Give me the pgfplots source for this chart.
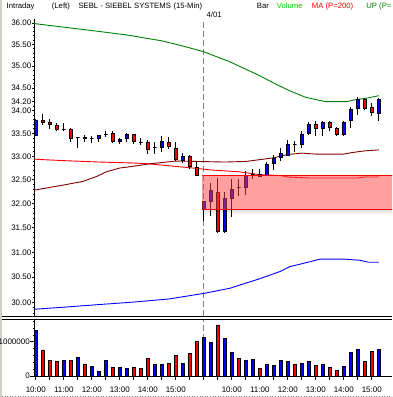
\documentclass[border=0pt]{standalone}
\usepackage{pgfplots}
\pgfplotsset{compat=1.18}
\usepackage{pgfplotstable}
\usepackage{fontspec}
\setmainfont{Liberation Sans}
\definecolor{candleup}{RGB}{0,0,255}
\definecolor{candledn}{RGB}{255,0,0}
\definecolor{upgreen}{RGB}{0,128,0}
\definecolor{volgreen}{RGB}{0,200,0}
\definecolor{maroonline}{RGB}{128,0,0}
\definecolor{bandfill}{RGB}{255,64,64}
\definecolor{framegray}{RGB}{212,208,200}
\definecolor{dashgray}{RGB}{128,128,128}

\pgfplotstableread{
i o h l c
1 33.45 33.82 33.44 33.79
2 33.79 33.92 33.68 33.74
3 33.74 33.82 33.60 33.69
4 33.68 33.72 33.54 33.59
5 33.59 33.73 33.54 33.59
6 33.59 33.61 33.32 33.39
7 33.41 33.41 33.18 33.41
8 33.41 33.47 33.32 33.38
9 33.39 33.43 33.29 33.39
10 33.38 33.47 33.32 33.45
11 33.48 33.56 33.41 33.48
12 33.49 33.56 33.28 33.32
13 33.32 33.39 33.26 33.37
14 33.39 33.50 33.32 33.47
15 33.47 33.49 33.26 33.32
16 33.30 33.39 33.25 33.30
17 33.30 33.36 33.06 33.15
18 33.20 33.31 33.06 33.20
19 33.20 33.43 33.10 33.33
20 33.30 33.41 33.15 33.21
21 33.18 33.32 32.89 32.94
22 32.92 33.08 32.85 33.00
23 33.00 33.03 32.73 32.78
24 32.76 32.90 32.57 32.59
25 31.87 32.05 31.63 32.04
26 32.04 32.43 31.74 32.27
27 32.24 32.54 31.39 31.42
28 31.42 32.25 31.39 32.11
29 32.11 32.51 31.72 32.30
30 32.34 32.51 32.16 32.34
31 32.34 32.69 32.18 32.60
32 32.62 32.73 32.51 32.62
33 32.62 32.73 32.55 32.57
34 32.60 32.88 32.57 32.83
35 32.85 33.03 32.71 32.96
36 32.97 33.18 32.89 33.07
37 33.03 33.36 33.00 33.26
38 33.25 33.33 33.10 33.25
39 33.26 33.54 33.18 33.48
40 33.50 33.74 33.47 33.70
41 33.70 33.77 33.45 33.61
42 33.61 33.77 33.43 33.74
43 33.74 33.76 33.54 33.63
44 33.61 33.63 33.45 33.48
45 33.48 33.77 33.45 33.74
46 33.79 34.09 33.61 34.02
47 34.04 34.31 33.90 34.24
48 34.24 34.28 34.02 34.05
49 34.08 34.16 33.87 33.96
50 33.94 34.28 33.77 34.24
}\candles

\begin{document}
\begin{tikzpicture}[font=\fontsize{8}{9.6}\selectfont]
\path[use as bounding box] (0,0) rectangle (392pt,-397pt);
\fill[framegray] (0,0) rectangle (2pt,-397pt);

% header
\begin{scope}[every node/.style={anchor=base west, inner sep=0pt, font=\fontsize{7.7}{9}\selectfont}]
\node at (6.5pt,-8.3pt) {Intraday};
\node at (51.7pt,-8.3pt) {(Left)};
\node at (78.3pt,-8.3pt) {SEBL - SIEBEL SYSTEMS};
\node at (173.3pt,-8.3pt) {(15-Min)};
\node at (256.7pt,-8.3pt) {Bar};
\node[text=volgreen] at (276.7pt,-8.3pt) {Volume};
\node[text=red] at (311.7pt,-8.3pt) {MA (P=200)};
\node[text=upgreen] at (366.2pt,-8.3pt) {UP (P=};
\node at (206.5pt,-17.3pt) {4/01};
\end{scope}

% ---------------- price panel
\begin{axis}[
  at={(34pt,-316pt)}, anchor=south west,
  scale only axis, width=358pt, height=297pt,
  xmin=0.743, xmax=51.886,
  ymode=log, ymin=29.741, ymax=36.094,
  axis x line=none, axis y line*=left,
  axis line style={-, line width=0.9pt},
  ytick={30,30.5,31,31.5,32,32.5,33,33.5,34,34.2,34.5,35,35.5,36},
  yticklabels={30.00,30.50,31.00,31.50,32.00,32.50,33.00,33.50,34.00,34.20,34.50,35.00,35.50,36.00},
  minor ytick={29.8,29.9,...,36.0},
  tick align=outside, major tick length=2pt, minor tick length=1.2pt,
  tick style={black, line width=0.6pt},
  yticklabel style={inner sep=0pt, xshift=-0.5pt},
]
\addplot[dashgray, line width=0.9pt, dash pattern=on 6pt off 3pt, forget plot] coordinates {(24.95,29.741) (24.95,36.094)};
\addplot[upgreen, line width=0.9pt] coordinates {(0.743,35.99) (1,35.98) (5,35.90) (10,35.80) (14,35.72) (19,35.58) (22,35.46) (25,35.33) (28.7,35.10) (33,34.78) (35.3,34.59) (37.3,34.44) (39.5,34.30) (41.4,34.23) (42.5,34.20) (45.4,34.20) (46.6,34.24) (48.5,34.28) (50,34.33)};
\addplot[red, line width=0.9pt] coordinates {(0.743,32.94) (2,32.93) (5,32.91) (10,32.88) (15,32.86) (17,32.84) (20,32.80) (24,32.74) (26,32.71) (30,32.67) (33,32.61) (36,32.59) (37,32.56) (40,32.54) (47,32.54) (48,32.56) (50,32.56)};
\addplot[maroonline, line width=0.9pt] coordinates {(0.743,32.28) (3,32.34) (5,32.39) (7.8,32.47) (9.7,32.57) (11.1,32.67) (13,32.75) (14.5,32.78) (17.3,32.84) (21,32.90) (24,32.89) (28,32.88) (31,32.89) (33,32.93) (35,32.97) (37,33.04) (39,33.07) (41,33.05) (45,33.05) (46,33.08) (48,33.12) (50,33.14)};
\addplot[blue, line width=0.9pt] coordinates {(0.743,29.87) (5,29.91) (10,29.96) (15,30.01) (20,30.07) (25,30.18) (28.7,30.28) (33,30.47) (36,30.62) (37.3,30.71) (40.2,30.81) (41.6,30.86) (45.2,30.86) (47.3,30.84) (48.5,30.80) (50,30.80)};
% candles
\pgfplotsforeachungrouped \kr in {0,...,49}{%
  \pgfplotstablegetelem{\kr}{i}\of\candles\let\ki\pgfplotsretval
  \pgfplotstablegetelem{\kr}{o}\of\candles\let\ko\pgfplotsretval
  \pgfplotstablegetelem{\kr}{h}\of\candles\let\kh\pgfplotsretval
  \pgfplotstablegetelem{\kr}{l}\of\candles\let\kl\pgfplotsretval
  \pgfplotstablegetelem{\kr}{c}\of\candles\let\kc\pgfplotsretval
  \pgfmathsetmacro\xa{\ki-0.25}%
  \pgfmathsetmacro\xb{\ki+0.25}%
  \pgfmathparse{\kc>\ko}%
  \ifdim\pgfmathresult pt>0.5pt \def\kf{candleup}\else\def\kf{candledn}\fi
  \edef\doit{\noexpand\addplot[forget plot, black, line width=1pt] coordinates {(\ki,\kl) (\ki,\kh)};%
    \noexpand\addplot[forget plot, fill=\kf, draw=black, line width=0.8pt] coordinates {(\xa,\ko) (\xb,\ko) (\xb,\kc) (\xa,\kc)} -- cycle;}%
  \doit
}
% support band
\addplot[forget plot, draw=none, fill=bandfill, fill opacity=0.5] coordinates {(24.7,31.87) (52,31.87) (52,32.60) (24.7,32.60)} -- cycle;
\addplot[forget plot, black, opacity=0.10, line width=2pt, yshift=-1.6pt] coordinates {(24.7,31.87) (52,31.87)};
\addplot[forget plot, black, opacity=0.06, line width=1.5pt, yshift=-3.2pt] coordinates {(24.7,31.87) (52,31.87)};
\addplot[forget plot, red, line width=0.9pt] coordinates {(24.7,31.87) (52,31.87)};
\addplot[forget plot, red, line width=0.9pt] coordinates {(24.7,32.60) (52,32.60)};
\end{axis}

% ---------------- volume panel
\begin{axis}[
  at={(34pt,-376pt)}, anchor=south west,
  scale only axis, width=358pt, height=56pt,
  xmin=0.743, xmax=51.886, ymin=0, ymax=1633000,
  axis x line*=bottom, axis y line*=left,
  axis line style={-, line width=0.9pt},
  xtick={1,3,...,49},
  xticklabels={10:00,,11:00,,12:00,,13:00,,14:00,,15:00,,,,10:00,,11:00,,12:00,,13:00,,14:00,,15:00,},
  ytick={0,1000000}, yticklabels={0,1000000},
  minor ytick={200000,400000,...,1600000},
  scaled y ticks=false,
  tick align=outside, major tick length=3.5pt, minor tick length=1.2pt,
  tick style={black, line width=0.7pt},
  yticklabel style={inner sep=0pt, xshift=-0.5pt},
  xticklabel style={yshift=-4pt},
]
\addplot[dashgray, line width=0.9pt, dash pattern=on 6pt off 3pt, forget plot] coordinates {(24.95,0) (24.95,1633000)};
\addplot[ybar, bar width=3.4pt, bar shift=0pt, fill=candleup, draw=black, line width=0.7pt] coordinates {
(1,1340000) (5,450000) (7,540000) (9,290000) (10,140000) (11,460000) (13,260000) (14,220000) (18,340000) (19,340000) (22,370000)
(25,1130000) (26,980000) (28,1100000) (29,690000) (31,450000) (32,480000) (34,340000) (35,310000) (36,450000) (37,420000) (39,360000) (40,420000) (42,340000) (45,280000) (46,690000) (47,780000) (50,780000)};
\addplot[ybar, bar width=3.4pt, bar shift=0pt, fill=candledn, draw=black, line width=0.7pt] coordinates {
(2,760000) (3,460000) (4,430000) (6,450000) (8,330000) (12,260000) (15,260000) (16,220000) (17,510000) (20,370000) (21,610000) (23,660000) (24,1020000)
(27,1490000) (30,510000) (33,220000) (38,340000) (41,310000) (43,250000) (44,160000) (48,420000) (49,720000)};
\end{axis}

% panel separator and frame
\draw[black, line width=0.9pt] (2pt,-316.6pt) -- (392pt,-316.6pt);
\draw[black, line width=0.9pt] (2pt,-319.3pt) -- (392pt,-319.3pt);
\draw[gray, dotted, line width=0.6pt] (2pt,-396.3pt) -- (392pt,-396.3pt);
\end{tikzpicture}
\end{document}
